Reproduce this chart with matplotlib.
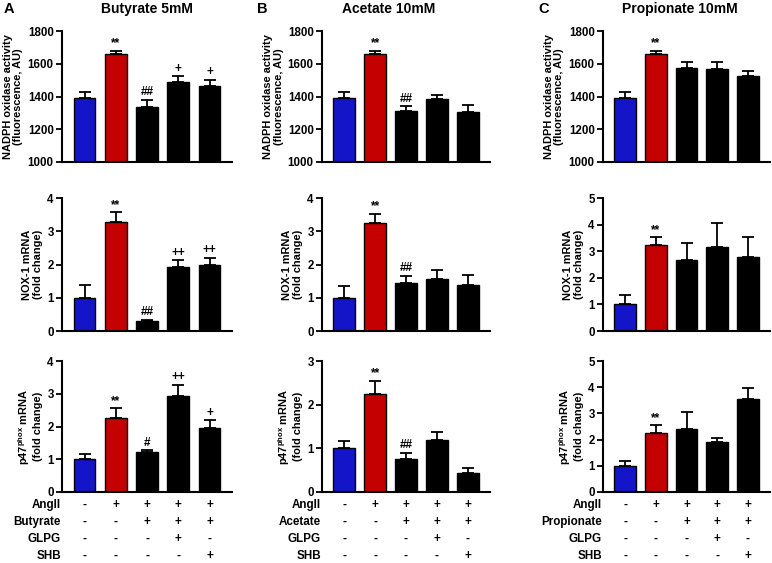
import numpy as np
import matplotlib
matplotlib.use("Agg")
import matplotlib.pyplot as plt

plt.rcParams['font.family'] = ['Liberation Sans', 'DejaVu Sans']
plt.rcParams['font.weight'] = 'bold'
plt.rcParams['mathtext.fontset'] = 'custom'
plt.rcParams['mathtext.rm'] = 'Liberation Sans'
plt.rcParams['mathtext.bf'] = 'Liberation Sans:bold'

# --- data ---
groups = ["Control", "AngII", "AngII+SCFA", "AngII+SCFA+GLPG", "AngII+SCFA+SHB"]
panel_letters = ["A", "B", "C"]
panel_titles = ["Butyrate 5mM", "Acetate 10mM", "Propionate 10mM"]
scfa_names = ["Butyrate", "Acetate", "Propionate"]

row_labels = ["NADPH oxidase activity\n(fluorescence, AU)",
              "NOX-1 mRNA\n(fold change)",
              "p47$^{\\mathrm{phox}}$ mRNA\n(fold change)"]

# NADPH oxidase activity
nadph_mean = [[1390, 1660, 1335, 1490, 1465],
              [1392, 1658, 1310, 1385, 1305],
              [1392, 1658, 1575, 1567, 1527]]
nadph_err = [[35, 18, 45, 35, 38],
             [37, 20, 32, 24, 45],
             [37, 20, 33, 45, 30]]
nadph_sig = [["", "**", "##", "+", "+"],
             ["", "**", "##", "", ""],
             ["", "**", "", "", ""]]

# NOX-1 mRNA
nox_mean = [[1.0, 3.27, 0.30, 1.92, 1.97],
            [1.0, 3.25, 1.44, 1.57, 1.38],
            [1.0, 3.25, 2.66, 3.14, 2.79]]
nox_err = [[0.37, 0.30, 0.04, 0.21, 0.23],
           [0.36, 0.28, 0.22, 0.25, 0.30],
           [0.35, 0.28, 0.63, 0.92, 0.73]]
nox_sig = [["", "**", "##", "++", "++"],
           ["", "**", "##", "", ""],
           ["", "**", "", "", ""]]

# p47phox mRNA
p47_mean = [[1.0, 2.25, 1.23, 2.92, 1.95],
            [1.0, 2.25, 0.75, 1.18, 0.44],
            [1.0, 2.26, 2.40, 1.89, 3.56]]
p47_err = [[0.17, 0.30, 0.05, 0.36, 0.24],
           [0.17, 0.30, 0.15, 0.19, 0.10],
           [0.18, 0.29, 0.66, 0.19, 0.42]]
p47_sig = [["", "**", "#", "++", "+"],
           ["", "**", "##", "", ""],
           ["", "**", "", "", ""]]

ylims = [[(1000, 1800)] * 3,
         [(0, 4), (0, 4), (0, 5)],
         [(0, 4), (0, 3), (0, 5)]]
yticks = [[np.arange(1000, 1801, 200)] * 3,
          [np.arange(0, 5), np.arange(0, 5), np.arange(0, 6)],
          [np.arange(0, 5), np.arange(0, 4), np.arange(0, 6)]]

treat_rows = [["-", "+", "+", "+", "+"],
              ["-", "-", "+", "+", "+"],
              ["-", "-", "-", "+", "-"],
              ["-", "-", "-", "-", "+"]]

bar_colors = ["#1414c8", "#c40000", "black", "black", "black"]

# --- layout in pixels ---
W, H = 772, 563
col_x = [(62, 232), (322, 490), (603, 770)]
row_y = [(31, 162), (198, 331), (361, 492)]
title_x = [147, 389, 680]
letter_x = [4, 257, 538]
table_y = [505, 522, 539, 556]

fig = plt.figure(figsize=(W / 100, H / 100), dpi=100)

all_mean = [nadph_mean, nox_mean, p47_mean]
all_err = [nadph_err, nox_err, p47_err]
all_sig = [nadph_sig, nox_sig, p47_sig]

x = np.arange(len(groups))
for c in range(3):
    x0, x1 = col_x[c]
    for r in range(3):
        y0, y1 = row_y[r]
        ax = fig.add_axes([x0 / W, 1 - y1 / H, (x1 - x0) / W, (y1 - y0) / H])
        m = np.array(all_mean[r][c], dtype=float)
        e = np.array(all_err[r][c], dtype=float)
        ax.bar(x, m, width=0.7, color=bar_colors, edgecolor="black", linewidth=1.0, zorder=2)
        ax.errorbar(x, m, yerr=[np.zeros_like(e), e], fmt="none", ecolor="black",
                    elinewidth=1.3, capsize=4.5, capthick=1.3, zorder=3)
        for i, s in enumerate(all_sig[r][c]):
            if s:
                ax.annotate(s, (x[i], m[i] + e[i]), xytext=(0, 1), textcoords="offset points",
                            ha="center", va="bottom", fontsize=8.5, fontweight="bold")
        ax.set_ylim(*ylims[r][c])
        ax.set_yticks(yticks[r][c])
        ax.set_xlim(-0.72, 4.72)
        ax.set_xticks([])
        ax.spines[["top", "right"]].set_visible(False)
        ax.spines[["left", "bottom"]].set_linewidth(1.5)
        ax.tick_params(axis="y", direction="out", length=4, width=1.3, labelsize=8.3, pad=2)
        ax.set_ylabel(row_labels[r], fontsize=7.9, fontweight="bold", labelpad=3, linespacing=1.1)
        for lab in ax.get_yticklabels():
            lab.set_fontweight("bold")

        if r == 2:
            names = ["AngII", scfa_names[c], "GLPG", "SHB"]
            for k in range(4):
                yf = 1 - table_y[k] / H
                fig.text((x0 - 1) / W, yf, names[k], ha="right", va="center",
                         fontsize=8.4, fontweight="bold")
                for i in range(len(groups)):
                    xf = ax.transData.transform((x[i], 0))[0] / fig.dpi / fig.get_figwidth()
                    fig.text(xf, yf, treat_rows[k][i], ha="center", va="center",
                             fontsize=8.4, fontweight="bold")

    fig.text(letter_x[c] / W, 1 - 9 / H, panel_letters[c], ha="left", va="center",
             fontsize=10.5, fontweight="bold")
    fig.text(title_x[c] / W, 1 - 9 / H, panel_titles[c], ha="center", va="center",
             fontsize=10, fontweight="bold")

fig.savefig("out.png", dpi=100)
